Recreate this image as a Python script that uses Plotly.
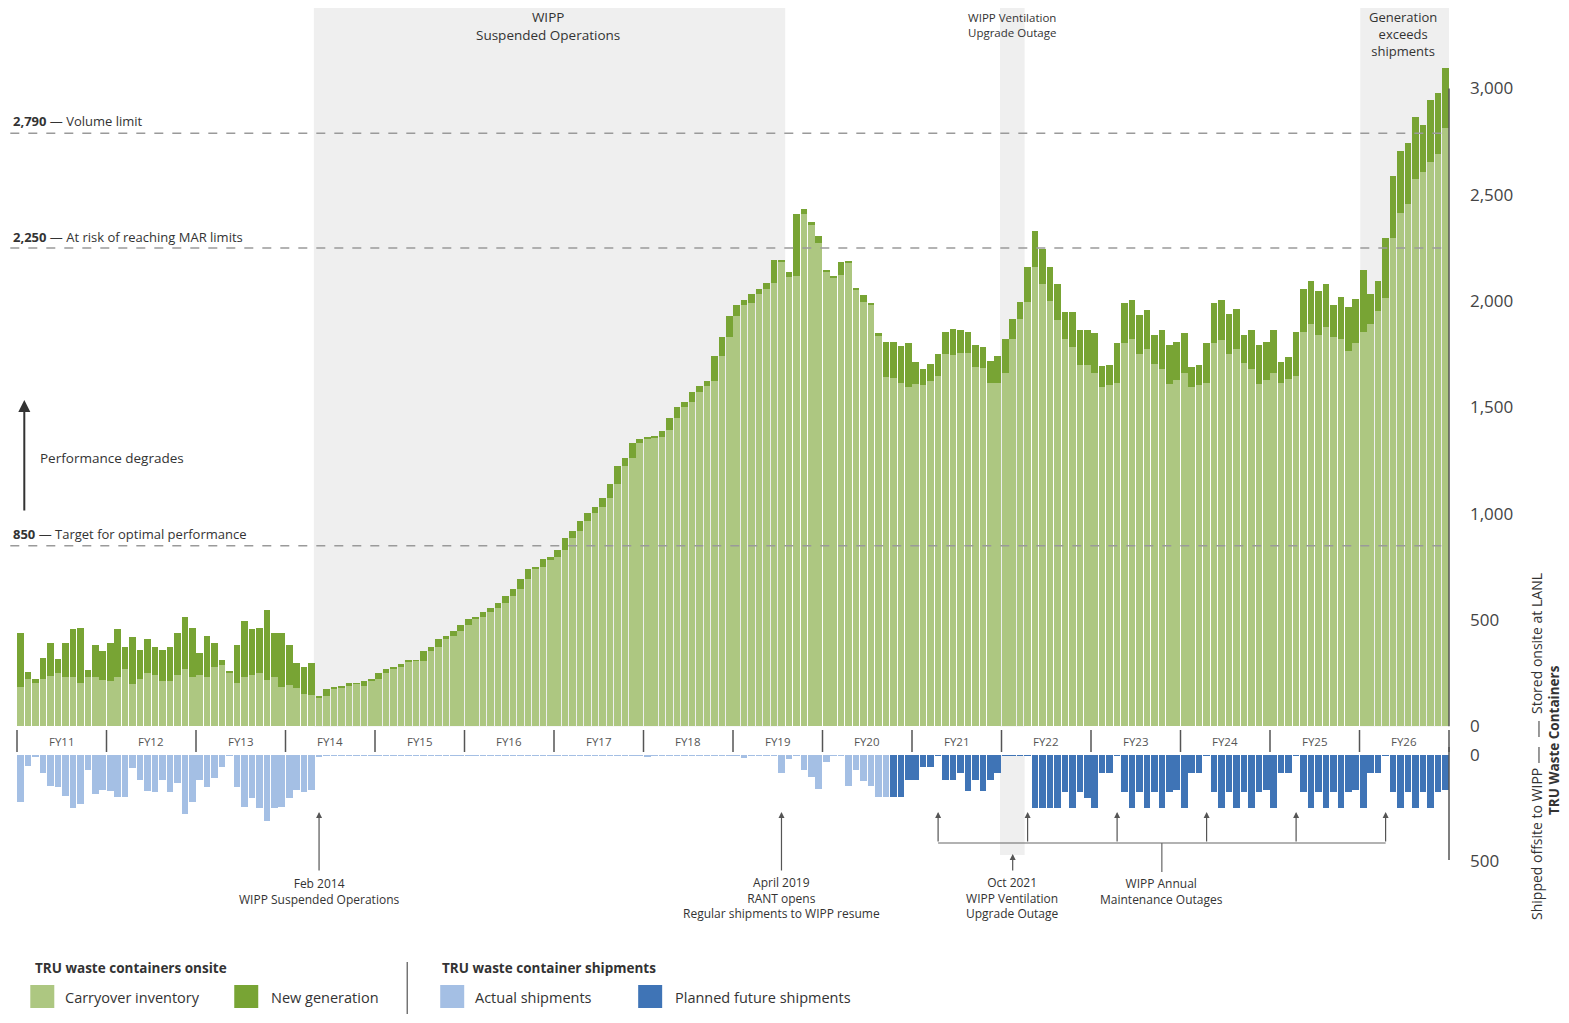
import plotly.graph_objects as go

# fiscal years, 12 monthly bars each (Oct..Sep)
fiscal_years = ["FY11", "FY12", "FY13", "FY14", "FY15", "FY16", "FY17", "FY18",
                "FY19", "FY20", "FY21", "FY22", "FY23", "FY24", "FY25", "FY26"]

# TRU waste containers onsite: carryover inventory (bottom of stack)
carryover = [
    187, 221, 206, 221, 237, 250, 234, 234, 206, 234, 234, 218,          # FY11
    215, 231, 268, 199, 221, 250, 242, 215, 215, 242, 270, 234,          # FY12
    240, 231, 278, 289, 255, 206, 234, 242, 250, 218, 234, 187,          # FY13
    195, 182, 152, 146, 137, 143, 177, 184, 190, 200, 190, 215,          # FY14
    221, 250, 271, 281, 306, 308, 309, 353, 375, 412, 425, 450,          # FY15
    478, 504, 516, 539, 555, 579, 615, 645, 695, 739, 751, 786,          # FY16
    795, 830, 885, 920, 966, 1002, 1033, 1073, 1139, 1226, 1264, 1331,   # FY17
    1355, 1358, 1360, 1394, 1450, 1504, 1527, 1573, 1601, 1623, 1743, 1833,  # FY18
    1930, 1982, 1993, 2034, 2059, 2087, 2185, 2112, 2118, 2410, 2358, 2275,  # FY19
    2140, 2112, 2123, 2180, 2055, 1997, 1985, 1840, 1642, 1637, 1616, 1598,  # FY20
    1610, 1605, 1624, 1648, 1751, 1747, 1758, 1754, 1692, 1684, 1616, 1613,  # FY21
    1661, 1823, 1914, 1997, 2159, 2079, 2002, 1911, 1823, 1783, 1700, 1700,  # FY22
    1661, 1598, 1605, 1616, 1802, 1820, 1751, 1773, 1704, 1679, 1610, 1630,  # FY23
    1661, 1595, 1605, 1616, 1805, 1817, 1751, 1773, 1708, 1679, 1610, 1629,  # FY24
    1661, 1616, 1632, 1648, 1856, 1893, 1841, 1880, 1833, 1820, 1767, 1805,  # FY25
    1856, 1893, 1955, 2013, 2296, 2416, 2457, 2573, 2609, 2656, 2692, 2813,  # FY26
]

# total containers onsite (carryover + new generation)
onsite_total = [
    438, 256, 221, 322, 391, 316, 391, 457, 464, 265, 383, 355,          # FY11
    391, 457, 375, 419, 359, 412, 375, 359, 375, 441, 516, 463,          # FY12
    344, 425, 391, 312, 262, 383, 494, 457, 463, 547, 438, 441,          # FY13
    381, 300, 278, 300, 143, 174, 184, 190, 203, 203, 215, 221,          # FY14
    250, 271, 281, 293, 309, 312, 353, 375, 412, 425, 450, 478,          # FY15
    504, 516, 539, 555, 579, 615, 645, 695, 739, 751, 786, 795,          # FY16
    830, 885, 920, 966, 1002, 1033, 1073, 1139, 1226, 1264, 1331, 1353,  # FY17
    1360, 1363, 1391, 1450, 1504, 1527, 1573, 1601, 1623, 1743, 1833, 1930,  # FY18
    1982, 2005, 2034, 2059, 2087, 2192, 2192, 2139, 2410, 2432, 2374, 2306,  # FY19
    2146, 2118, 2186, 2186, 2063, 2027, 1990, 1849, 1809, 1809, 1789, 1805,  # FY20
    1714, 1682, 1704, 1750, 1855, 1870, 1864, 1855, 1795, 1786, 1720, 1742,  # FY21
    1823, 1914, 1997, 2159, 2331, 2244, 2159, 2079, 1950, 1950, 1864, 1864,  # FY22
    1849, 1695, 1698, 1802, 1990, 2005, 1935, 1958, 1841, 1864, 1794, 1809,  # FY23
    1849, 1692, 1698, 1805, 1990, 2005, 1939, 1962, 1839, 1864, 1794, 1809,  # FY24
    1864, 1715, 1739, 1856, 2056, 2096, 2049, 2079, 1982, 2018, 1974, 2009,  # FY25
    2146, 2034, 2095, 2296, 2589, 2708, 2742, 2865, 2828, 2946, 2977, 3095,  # FY26
]

# shipments to WIPP: actual (Oct 2010 - Jun 2020)
actual_shipments = [
    219, 52, 5, 86, 146, 150, 193, 247, 230, 70, 185, 165,    # FY11
    169, 196, 196, 60, 118, 169, 172, 118, 172, 133, 279, 219,  # FY12
    118, 152, 107, 58, 3, 152, 243, 204, 251, 309, 251, 243,  # FY13
    204, 165, 172, 165, 5, 4, 4, 4, 4, 4, 4, 4,               # FY14
    4, 4, 4, 4, 4, 4, 4, 4, 4, 4, 4, 4,                       # FY15
    4, 4, 4, 4, 4, 4, 4, 4, 4, 4, 4, 4,                       # FY16
    4, 4, 4, 4, 4, 4, 4, 4, 4, 4, 4, 4,                       # FY17
    8, 4, 4, 4, 4, 4, 4, 4, 4, 4, 4, 4,                       # FY18
    3, 16, 3, 3, 3, 3, 86, 21, 3, 71, 102, 161,               # FY19
    33, 3, 3, 146, 71, 120, 146, 196, 196,                    # FY20 (Oct-Jun)
]

# shipments to WIPP: planned future (Jul 2020 - Sep 2026)
planned_shipments = [
    196, 196, 118,                                            # FY20 (Jul-Sep)
    118, 55, 55, 3, 118, 118, 86, 169, 118, 169, 118, 86,     # FY21
    3, 3, 3, 3, 251, 251, 251, 251, 172, 251, 172, 204,       # FY22
    251, 86, 86, 3, 172, 251, 172, 251, 172, 251, 172, 165,   # FY23
    251, 86, 86, 3, 172, 251, 172, 251, 172, 251, 172, 165,   # FY24
    251, 86, 86, 3, 172, 251, 172, 251, 172, 251, 172, 165,   # FY25
    251, 86, 86, 3, 172, 251, 172, 251, 172, 251, 172, 165,   # FY26
]

months = list(range(len(carryover)))
new_generation = [t - c for t, c in zip(onsite_total, carryover)]
actual_x = months[:len(actual_shipments)]
planned_x = months[len(actual_shipments):]

LIGHT_GREEN = "#adc781"
DARK_GREEN = "#78a434"
LIGHT_BLUE = "#a4bfe4"
DARK_BLUE = "#3f74b6"
BAND = "#efefef"
TXT = "#333333"
FONT = "Open Sans"

# layout is worked out in page pixels; the page body adds an 8px margin
PAGE = 8
W, H = 1569 - PAGE, 1023 - PAGE
L_PX, R_PX = 16.7, 1449
T_PX, B_PX = 8, 863
TOP_ZERO_PX, BOT_ZERO_PX = 726.4, 755
PX_PER_UNIT = 0.21264


def px(p):
    return (p - L_PX) / (R_PX - L_PX)


def py(p):
    return (B_PX - p) / (B_PX - T_PX)


fig = go.Figure()
fig.add_trace(go.Bar(x=months, y=carryover, marker_color=LIGHT_GREEN,
                     marker_line_width=0, xaxis="x", yaxis="y", name="Carryover inventory"))
fig.add_trace(go.Bar(x=months, y=new_generation, marker_color=DARK_GREEN,
                     marker_line_width=0, xaxis="x", yaxis="y", name="New generation"))
fig.add_trace(go.Bar(x=actual_x, y=actual_shipments, marker_color=LIGHT_BLUE,
                     marker_line_width=0, xaxis="x2", yaxis="y2", name="Actual shipments"))
fig.add_trace(go.Bar(x=planned_x, y=planned_shipments, marker_color=DARK_BLUE,
                     marker_line_width=0, xaxis="x2", yaxis="y2", name="Planned future shipments"))

top_max = (TOP_ZERO_PX - T_PX) / PX_PER_UNIT
bot_max = (B_PX - BOT_ZERO_PX) / PX_PER_UNIT

shapes = []
# shaded periods (top panel)
for x0, x1 in [(39.3, 102.5), (131.3, 134.6), (179.6, 191.5)]:
    shapes.append(dict(type="rect", xref="x", yref="paper", x0=x0, x1=x1,
                       y0=py(TOP_ZERO_PX), y1=1, fillcolor=BAND, line_width=0, layer="below"))
# ventilation outage band continues through shipments panel
shapes.append(dict(type="rect", xref="x", yref="paper", x0=131.3, x1=134.6,
                   y0=py(855), y1=py(BOT_ZERO_PX), fillcolor=BAND, line_width=0, layer="below"))

# threshold dashed lines
for v in [2790, 2250, 850]:
    shapes.append(dict(type="line", xref="paper", yref="y", x0=px(10), x1=1, y0=v, y1=v,
                       line=dict(color="#9a9a9a", width=1.5, dash="dash"), layer="above"))

# right axis lines
shapes.append(dict(type="line", xref="paper", yref="y", x0=1, x1=1, y0=0, y1=3000,
                   line=dict(color="#555555", width=1.5)))
shapes.append(dict(type="line", xref="paper", yref="paper", x0=1, x1=1, y0=py(747), y1=py(860),
                   line=dict(color="#555555", width=1.5)))

# fiscal-year separators
for i in range(len(fiscal_years) + 1):
    xb = px(L_PX + i * (R_PX - L_PX) / 16)
    shapes.append(dict(type="line", xref="paper", yref="paper", x0=xb, x1=xb,
                       y0=py(730), y1=py(752), line=dict(color="#555555", width=1.5)))

# annual maintenance bracket
maint_months = [123, 135, 147, 159, 171, 183]
shapes.append(dict(type="line", xref="x", yref="paper", x0=maint_months[0], x1=maint_months[-1],
                   y0=py(843), y1=py(843), line=dict(color="#666666", width=1.2)))
shapes.append(dict(type="line", xref="x", yref="paper", x0=153, x1=153,
                   y0=py(843), y1=py(872), line=dict(color="#666666", width=1.2)))

# small separators on the right-hand axis title
shapes.append(dict(type="line", xref="paper", yref="paper", x0=px(1539), x1=px(1539),
                   y0=py(721), y1=py(737), line=dict(color="#555555", width=1.2)))
shapes.append(dict(type="line", xref="paper", yref="paper", x0=px(1539), x1=px(1539),
                   y0=py(747), y1=py(763), line=dict(color="#555555", width=1.2)))

# legend swatches and divider
for x0, col in [(30, LIGHT_GREEN), (234, DARK_GREEN), (440, LIGHT_BLUE), (638, DARK_BLUE)]:
    shapes.append(dict(type="rect", xref="paper", yref="paper", x0=px(x0), x1=px(x0 + 24),
                       y0=py(1008), y1=py(985), fillcolor=col, line_width=0))
shapes.append(dict(type="line", xref="paper", yref="paper", x0=px(407), x1=px(407),
                   y0=py(962), y1=py(1014), line=dict(color="#555555", width=1.2)))

ann = []


def text(x, y, s, size=12, xref="paper", xanchor="left", bold=False, angle=0, color=TXT):
    if bold:
        s = "<b>" + s + "</b>"
    ann.append(dict(x=x, y=y, xref=xref, yref="paper", text=s, showarrow=False,
                    xanchor=xanchor, yanchor="middle", textangle=angle,
                    font=dict(family=FONT, size=size, color=color)))


def arrow(x, y_head, y_tail, xref="x"):
    ann.append(dict(x=x, y=py(y_head), xref=xref, yref="paper", ax=0, ay=y_tail - y_head,
                    text="", showarrow=True, arrowhead=2, arrowsize=1, arrowwidth=1.2,
                    arrowcolor="#555555"))


# fiscal year labels
for i, fy in enumerate(fiscal_years):
    text(i * 12 + 5.5, py(741), fy, size=11.5, xref="x", xanchor="center", color="#555555")

# threshold labels
text(px(11), py(121), "<b>2,790</b> — Volume limit", size=13)
text(px(11), py(237), "<b>2,250</b> — At risk of reaching MAR limits", size=13)
text(px(11), py(534), "<b>850</b> — Target for optimal performance", size=13)

# performance arrow
ann.append(dict(x=px(24), y=py(400), xref="paper", yref="paper", ax=0, ay=112, text="",
                showarrow=True, arrowhead=2, arrowsize=1.2, arrowwidth=2, arrowcolor="#333333"))
text(px(38), py(458), "Performance degrades", size=13.5)

# band labels
text(px(548), py(26), "WIPP<br>Suspended Operations", size=13.5, xanchor="center")
text(px(1012), py(25), "WIPP Ventilation<br>Upgrade Outage", size=11.5, xanchor="center")
text(px(1403), py(34), "Generation<br>exceeds<br>shipments", size=13, xanchor="center")

# event arrows below
arrow(40, 812, 872)
text(40, py(891), "Feb 2014<br>WIPP Suspended Operations", size=12, xref="x", xanchor="center")
arrow(102, 812, 872)
text(102, py(898), "April 2019<br>RANT opens<br>Regular shipments to WIPP resume", size=12,
     xref="x", xanchor="center")
arrow(133, 854, 872)
text(133, py(898), "Oct 2021<br>WIPP Ventilation<br>Upgrade Outage", size=12, xref="x",
     xanchor="center")
for m in maint_months:
    arrow(m, 812, 843)
text(153, py(891), "WIPP Annual<br>Maintenance Outages", size=12, xref="x", xanchor="center")

# right axis titles
text(px(1536), py(643), "Stored onsite at LANL", size=14, xanchor="center", angle=-90)
text(px(1536), py(844), "Shipped offsite to WIPP", size=14, xanchor="center", angle=-90)
text(px(1554), py(740), "TRU Waste Containers", size=13.5, xanchor="center", angle=-90, bold=True)

# legend text
text(px(33), py(968), "TRU waste containers onsite", size=13.5, bold=True)
text(px(63), py(997), "Carryover inventory", size=14.5)
text(px(269), py(997), "New generation", size=14.5)
text(px(440), py(968), "TRU waste container shipments", size=13.5, bold=True)
text(px(473), py(997), "Actual shipments", size=14.5)
text(px(673), py(997), "Planned future shipments", size=14.5)

fig.update_layout(
    width=W, height=H,
    margin=dict(l=L_PX - PAGE, r=W - (R_PX - PAGE), t=T_PX - PAGE, b=H - (B_PX - PAGE), pad=0),
    plot_bgcolor="white", paper_bgcolor="white",
    barmode="stack", bargap=0.12, showlegend=False,
    font=dict(family=FONT, color=TXT),
    xaxis=dict(domain=[0, 1], range=[-0.5, 191.5], anchor="y", visible=False),
    xaxis2=dict(domain=[0, 1], range=[-0.5, 191.5], anchor="y2", visible=False, matches="x"),
    yaxis=dict(domain=[py(TOP_ZERO_PX), 1], range=[0, top_max], side="right",
               tickvals=[0, 500, 1000, 1500, 2000, 2500, 3000], tickformat=",",
               showgrid=False, zeroline=False, ticks="", ticklabelstandoff=20,
               automargin=False, tickfont=dict(size=17, color="#444444")),
    yaxis2=dict(domain=[0, py(BOT_ZERO_PX)], range=[bot_max, 0], side="right",
                tickvals=[0, 500], showgrid=False, zeroline=False, ticks="",
                ticklabelstandoff=20, automargin=False, tickfont=dict(size=17, color="#444444")),
    shapes=shapes, annotations=ann,
)

fig.write_html("out.html")
